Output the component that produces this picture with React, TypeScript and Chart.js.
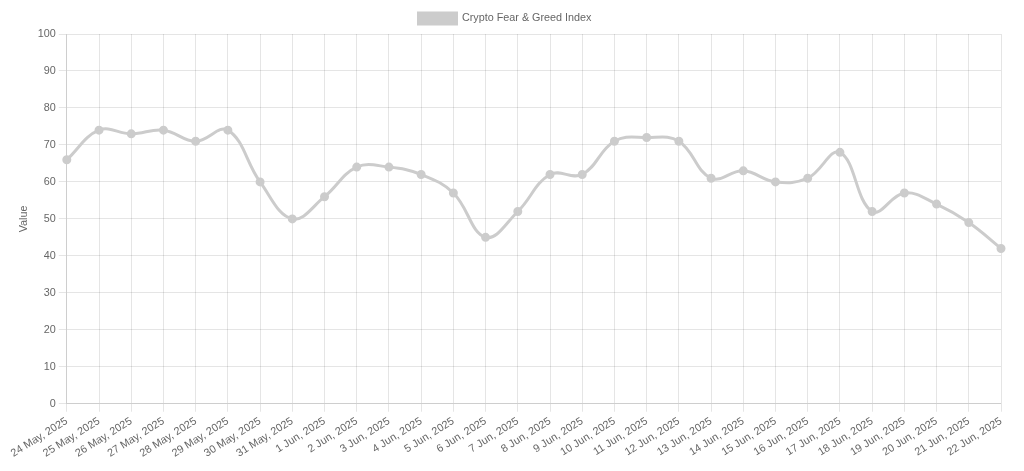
import React, { useEffect, useRef } from "react";
import { Chart, registerables } from "chart.js";

Chart.register(...registerables);

const labels = [
  "24 May, 2025", "25 May, 2025", "26 May, 2025", "27 May, 2025", "28 May, 2025",
  "29 May, 2025", "30 May, 2025", "31 May, 2025", "1 Jun, 2025", "2 Jun, 2025",
  "3 Jun, 2025", "4 Jun, 2025", "5 Jun, 2025", "6 Jun, 2025", "7 Jun, 2025",
  "8 Jun, 2025", "9 Jun, 2025", "10 Jun, 2025", "11 Jun, 2025", "12 Jun, 2025",
  "13 Jun, 2025", "14 Jun, 2025", "15 Jun, 2025", "16 Jun, 2025", "17 Jun, 2025",
  "18 Jun, 2025", "19 Jun, 2025", "20 Jun, 2025", "21 Jun, 2025", "22 Jun, 2025",
];

const values = [
  66, 74, 73, 74, 71, 74, 60, 50, 56, 64,
  64, 62, 57, 45, 52, 62, 62, 71, 72, 71,
  61, 63, 60, 61, 68, 52, 57, 54, 49, 42,
];

const seriesName = "Crypto Fear & Greed Index";

export default function App() {
  const ref = useRef<HTMLCanvasElement | null>(null);
  useEffect(() => {
    if (!ref.current) return;
    Chart.defaults.font.family = "'Liberation Sans', Arial, sans-serif";
    Chart.defaults.font.size = 10.8;
    Chart.defaults.color = "#666";
    const chart = new Chart(ref.current, {
      type: "line",
      data: {
        labels,
        datasets: [
          {
            label: seriesName,
            data: values,
            borderColor: "rgba(204,204,204,1)",
            backgroundColor: "rgba(204,204,204,1)",
            borderWidth: 3,
            pointRadius: 3,
            tension: 0.4,
            fill: false,
          },
        ],
      },
      options: {
        animation: false,
        responsive: true,
        maintainAspectRatio: false,
        layout: { padding: { right: 23 } },
        plugins: {
          legend: { display: true, position: "top", labels: { boxWidth: 38, boxHeight: 11 } },
          tooltip: { enabled: false },
        },
        scales: {
          x: {
            ticks: { autoSkip: false, minRotation: 32, maxRotation: 32 },
            grid: { color: "rgba(0,0,0,0.1)" },
          },
          y: {
            min: 0,
            max: 100,
            ticks: { stepSize: 10 },
            title: { display: true, text: "Value" },
            grid: { color: "rgba(0,0,0,0.1)" },
          },
        },
      },
    });
    return () => chart.destroy();
  }, []);
  return (
    <div style={{ position: "absolute", left: 9, top: 3, width: 1015, height: 460 }}>
      <canvas ref={ref} />
    </div>
  );
}
